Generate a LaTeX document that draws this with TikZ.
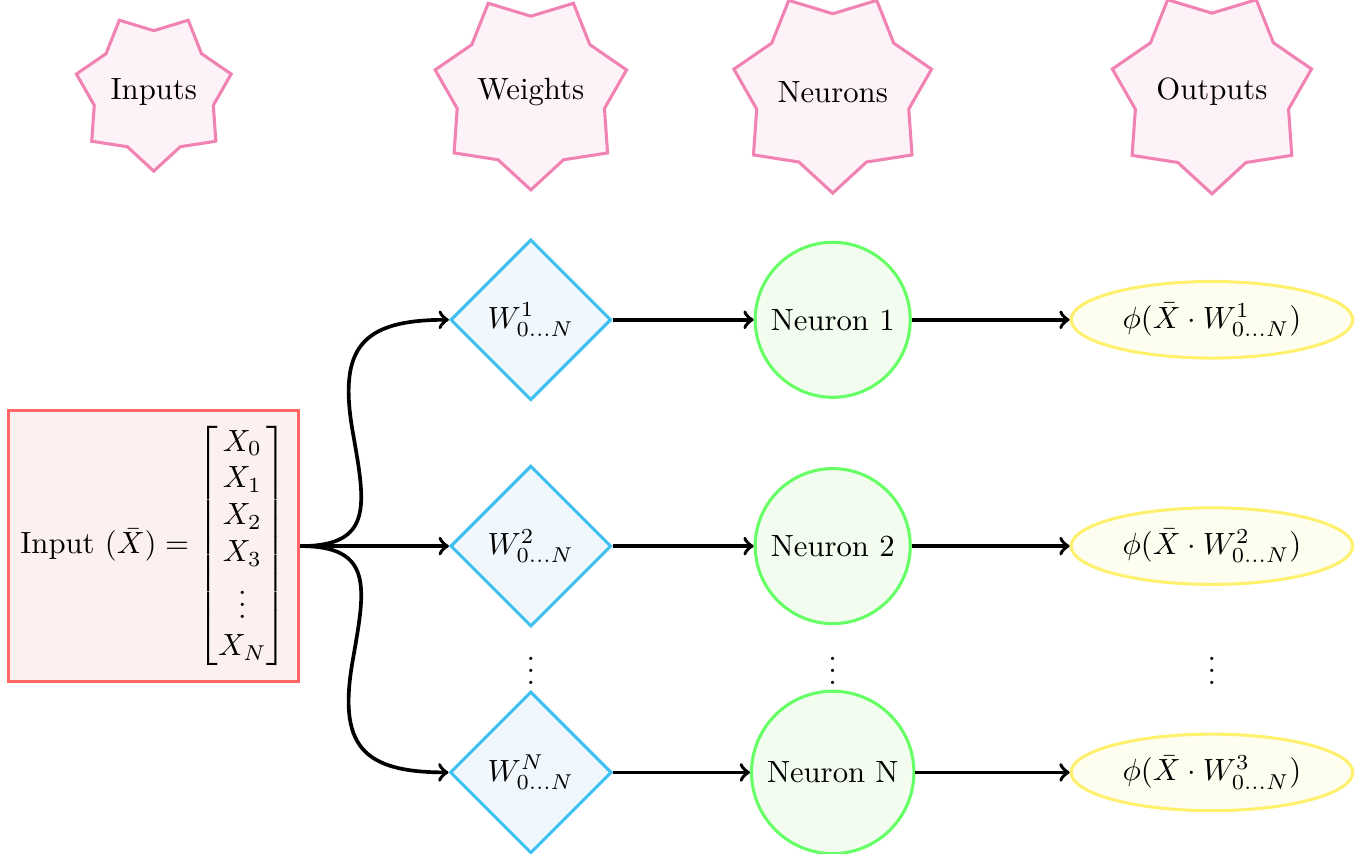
\documentclass[tikz,border=0pt]{standalone}
\usepackage{amsthm,amssymb,amsmath}
\usepackage{tikz}
\usetikzlibrary{shapes.geometric}
\definecolor{starline}{RGB}{240,130,180}
\definecolor{starfill}{RGB}{252,242,247}
\definecolor{inline}{RGB}{255,102,102}
\definecolor{infill}{RGB}{253,240,240}
\definecolor{wline}{RGB}{64,192,240}
\definecolor{wfill}{RGB}{240,248,253}
\definecolor{nline}{RGB}{102,255,102}
\definecolor{nfill}{RGB}{242,253,240}
\definecolor{oline}{RGB}{255,240,110}
\definecolor{ofill}{RGB}{254,254,240}
\tikzset{
    heading/.style={star, star points=7, star point ratio=1.3, shape border rotate=180, inner sep=0pt, draw=starline, fill=starfill, line width=1pt},
    inputbox/.style={rectangle, draw=inline, fill=infill, line width=1pt, inner sep=3.8pt, minimum height=3.1cm},
    weight/.style={diamond, aspect=1, draw=wline, fill=wfill, line width=1pt},
    neuron/.style={circle, draw=nline, fill=nfill, line width=1pt, inner sep=4pt},
    output/.style={ellipse, draw=oline, fill=ofill, line width=1pt},
    arrow/.style={->, very thick}
}

\begin{document}
\begin{tikzpicture}
  \useasboundingbox (0,0) rectangle (15.61,9.77);
  \node (h0) [heading] at (1.76,8.72) {Inputs};
  \node (h1) [heading] at (6.075,8.72) {Weights};
  \node (h2) [heading] at (9.53,8.72) {Neurons};
  \node (h3) [heading] at (13.87,8.72) {Outputs};

  \node (x) [inputbox] at (1.76,3.52) {Input $(\bar{X}) = \begin{bmatrix} X_0\\ X_1\\ X_2\\ X_3\\ \vdots\\ X_N \end{bmatrix}$};

  \node (w1) [weight] at (6.075,6.11) {$W^1_{0\ldots N}$};
  \node (w2) [weight] at (6.075,3.52) {$W^2_{0\ldots N}$};
  \node (wn) [weight] at (6.075,0.93) {$W^N_{0\ldots N}$};
  \node (n1) [neuron] at (9.53,6.11) {Neuron 1};
  \node (n2) [neuron] at (9.53,3.52) {Neuron 2};
  \node (nn) [neuron] at (9.53,0.93) {Neuron N};
  \node (o1) [output] at (13.87,6.11) {$\phi(\bar{X}\cdot W^1_{0\ldots N})$};
  \node (o2) [output] at (13.87,3.52) {$\phi(\bar{X}\cdot W^2_{0\ldots N})$};
  \node (on) [output] at (13.87,0.93) {$\phi(\bar{X}\cdot W^3_{0\ldots N})$};

  \node (wdots) at (6.075,2.2) {$\vdots$};
  \node (ndots) at (9.53,2.2) {$\vdots$};
  \node (odots) at (13.87,2.2) {$\vdots$};

  \draw [arrow] (x.east) to[out=0, in=-80, looseness=1.5] ++(0.6,1.3) to[out=100, in=180, looseness=1.5] (w1.west);
  \draw [arrow] (x.east) -- (w2.west);
  \draw [arrow] (x.east) to[out=0, in=80, looseness=1.5] ++(0.6,-1.3) to[out=-100, in=180, looseness=1.5] (wn.west);
  \draw [arrow] (w1) -- (n1);
  \draw [arrow] (w2) -- (n2);
  \draw [arrow] (wn) -- (nn);
  \draw [arrow] (n1) -- (o1);
  \draw [arrow] (n2) -- (o2);
  \draw [arrow] (nn) -- (on);
\end{tikzpicture}
\end{document}
